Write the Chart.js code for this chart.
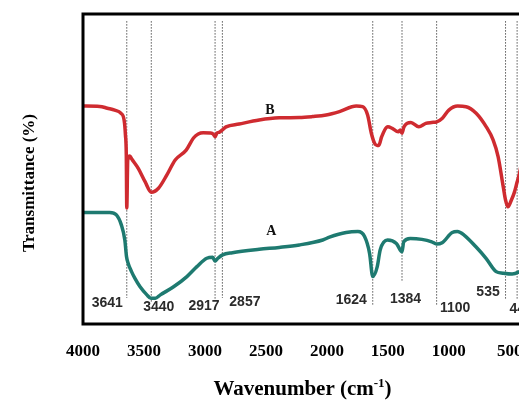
<!DOCTYPE html>
<html>
<head>
<meta charset="utf-8">
<script src="https://cdn.jsdelivr.net/npm/chart.js@4.4.1/dist/chart.umd.min.js"></script>
<style>
  html, body { margin: 0; padding: 0; background: #fff; overflow: hidden; }
  #wrap { position: relative; width: 560px; height: 400px; }
</style>
</head>
<body>
<div id="wrap"><canvas id="ftir"></canvas></div>
<script>
/* ─── DATA ─── */
// x tick labels (cm-1)
const xTicks = [4000, 3500, 3000, 2500, 2000, 1500, 1000, 500];

// spectrum B (red, upper trace)
const waveB = [4000, 3863, 3800, 3740, 3690, 3663, 3652, 3645, 3641, 3633,
  3616, 3600, 3547, 3491, 3440, 3381, 3312, 3244, 3154, 3094,
  3055, 3014, 2957, 2933, 2917, 2902, 2880, 2857, 2827, 2720,
  2555, 2391, 2226, 2119, 2006, 1897, 1759, 1707, 1666, 1636,
  1609, 1588, 1573, 1551, 1500, 1464, 1415, 1398, 1384, 1368,
  1311, 1246, 1189, 1141, 1100, 1053, 1000, 928, 859, 776,
  693, 637, 596, 554, 535, 515, 487, 464, 440, 420, 400];
const transB = [70.3, 70.2, 69.6, 69.0, 68.0, 65.8, 61.0, 54.5, 37.4, 52.9,
  54.2, 53.2, 50.2, 45.9, 42.5, 43.8, 48.1, 52.9, 56.1, 60.0,
  61.3, 61.7, 61.6, 61.3, 60.4, 61.6, 61.9, 62.6, 63.6, 64.5,
  65.8, 66.5, 66.6, 66.9, 67.4, 68.5, 70.3, 70.1, 67.4, 61.6,
  58.3, 57.6, 57.7, 60.4, 63.6, 63.1, 62.0, 62.6, 61.5, 63.6,
  65.0, 63.6, 64.7, 65.0, 65.2, 66.4, 69.0, 70.3, 70.1, 68.0,
  63.6, 59.4, 54.0, 44.3, 40.0, 37.8, 40.0, 42.3, 45.8, 48.7, 52.9];

// spectrum A (teal, lower trace)
const waveA = [4000, 3781, 3726, 3685, 3657, 3643, 3630, 3602, 3574, 3532,
  3476, 3443, 3407, 3366, 3257, 3148, 3066, 2985, 2936, 2917,
  2894, 2855, 2775, 2555, 2391, 2226, 2034, 1979, 1842, 1746,
  1691, 1650, 1624, 1587, 1563, 1502, 1430, 1384, 1370, 1316,
  1221, 1140, 1100, 1055, 972, 930, 875, 778, 695, 612,
  557, 481, 420, 400];
const transA = [36.0, 36.0, 35.2, 31.9, 27.1, 21.7, 19.6, 16.9, 14.7, 12.0,
  9.4, 8.3, 8.3, 9.4, 12.0, 15.3, 18.5, 21.2, 21.5, 20.3,
  21.2, 22.3, 23.0, 24.1, 24.7, 25.5, 27.1, 28.0, 29.5, 29.8,
  28.2, 22.8, 15.3, 18.5, 23.9, 27.1, 26.0, 23.3, 26.5, 27.6,
  27.3, 26.5, 25.8, 26.2, 29.5, 29.8, 28.7, 24.9, 21.2, 16.9,
  16.4, 16.1, 16.9, 17.4];

// marked band positions and where each dotted guide ends
const bandWaves = [3641, 3440, 2917, 2857, 1624, 1384, 1100, 535, 440];
const bandLow = [8.4, 6.8, 7.7, 8.4, 6.1, 13.5, 6.1, 7.7, 7.7];
const bandTop = 97.7;

/* ─── LABEL PLACEMENT (px offset from guide, value on y scale) ─── */
const bandLabelPos = [[-19.5, 6.8], [7.5, 5.5], [-11, 5.8], [22.5, 7.1], [-21.5, 7.7],
  [3.5, 8.1], [18.5, 5.2], [-17.5, 10.3], [4, 4.8]];

const toPts = (xs, ys) => xs.map((x, i) => ({ x, y: ys[i] }));

const RED = '#cf2b30', TEAL = '#1e7a70';

const guideSets = bandWaves.map((w, i) => ({
  data: [{ x: w, y: bandTop }, { x: w, y: bandLow[i] }],
  borderColor: 'rgba(70,70,70,0.9)', borderWidth: 1, borderDash: [1.5, 1.5],
  pointRadius: 0, order: 2
}));

const annotations = {
  id: 'annotations',
  afterDatasetsDraw(chart) {
    const { ctx, chartArea: a, scales: { x, y } } = chart;
    ctx.save();
    // frame
    ctx.strokeStyle = '#000'; ctx.lineWidth = 3;
    ctx.strokeRect(a.left, a.top, a.right - a.left, a.bottom - a.top);
    // band labels
    ctx.fillStyle = '#2b2b2b';
    ctx.font = 'bold 14px "Liberation Sans", Arial, sans-serif';
    ctx.textAlign = 'center'; ctx.textBaseline = 'middle';
    bandWaves.forEach((w, i) => {
      const [dx, v] = bandLabelPos[i];
      ctx.fillText(String(w), x.getPixelForValue(w) + dx, y.getPixelForValue(v));
    });
    // trace names
    ctx.fillStyle = '#111';
    ctx.font = 'bold 14px "Liberation Serif", "Times New Roman", serif';
    ctx.fillText('B', x.getPixelForValue(2468), y.getPixelForValue(69.0));
    ctx.fillText('A', x.getPixelForValue(2455), y.getPixelForValue(30.0));
    ctx.restore();
  },
  afterDraw(chart) {
    const { ctx, chartArea: a } = chart;
    ctx.save();
    ctx.fillStyle = '#000';
    // y title
    ctx.font = 'bold 17px "Liberation Serif", "Times New Roman", serif';
    ctx.textAlign = 'center'; ctx.textBaseline = 'middle';
    ctx.translate(30, 183);
    ctx.rotate(-Math.PI / 2);
    ctx.fillText('Transmittance (%)', 0, 0);
    ctx.restore();
    // x title with superscript
    ctx.save();
    ctx.fillStyle = '#000';
    ctx.textBaseline = 'alphabetic'; ctx.textAlign = 'left';
    const big = 'bold 21px "Liberation Serif", "Times New Roman", serif';
    const small = 'bold 13px "Liberation Serif", "Times New Roman", serif';
    const p1 = 'Wavenumber (cm', sup = '-1', p3 = ')';
    ctx.font = big; const w1 = ctx.measureText(p1).width, w3 = ctx.measureText(p3).width;
    ctx.font = small; const w2 = ctx.measureText(sup).width;
    let cx = (a.left + a.right) / 2 - (w1 + w2 + w3) / 2;
    const base = 395;
    ctx.font = big; ctx.fillText(p1, cx, base); cx += w1;
    ctx.font = small; ctx.fillText(sup, cx, base - 8); cx += w2;
    ctx.font = big; ctx.fillText(p3, cx, base);
    ctx.restore();
  }
};

new Chart(document.getElementById('ftir'), {
  type: 'line',
  data: {
    datasets: [
      { label: 'B', data: toPts(waveB, transB), borderColor: RED, borderWidth: 3.5,
        pointRadius: 0, cubicInterpolationMode: 'monotone', order: 0 },
      { label: 'A', data: toPts(waveA, transA), borderColor: TEAL, borderWidth: 3.5,
        pointRadius: 0, cubicInterpolationMode: 'monotone', order: 1 },
      ...guideSets
    ]
  },
  options: {
    responsive: true, maintainAspectRatio: false, animation: false,
    devicePixelRatio: 1,
    layout: { padding: { left: 83, top: 14, right: 38, bottom: 0 } },
    plugins: { legend: { display: false }, tooltip: { enabled: false } },
    scales: {
      x: {
        type: 'linear', reverse: true, min: 400, max: 4000,
        grid: { display: false, drawTicks: false }, border: { display: false },
        afterBuildTicks: s => { s.ticks = xTicks.map(value => ({ value })); },
        afterFit: s => { s.height = 76; },
        ticks: { color: '#000', padding: 17, maxRotation: 0, autoSkip: false,
          callback: v => String(v),
          font: { family: '"Liberation Serif", "Times New Roman", serif', size: 17, weight: 'bold' } }
      },
      y: { type: 'linear', min: 0, max: 100, display: false }
    }
  },
  plugins: [annotations]
});
</script>
</body>
</html>
